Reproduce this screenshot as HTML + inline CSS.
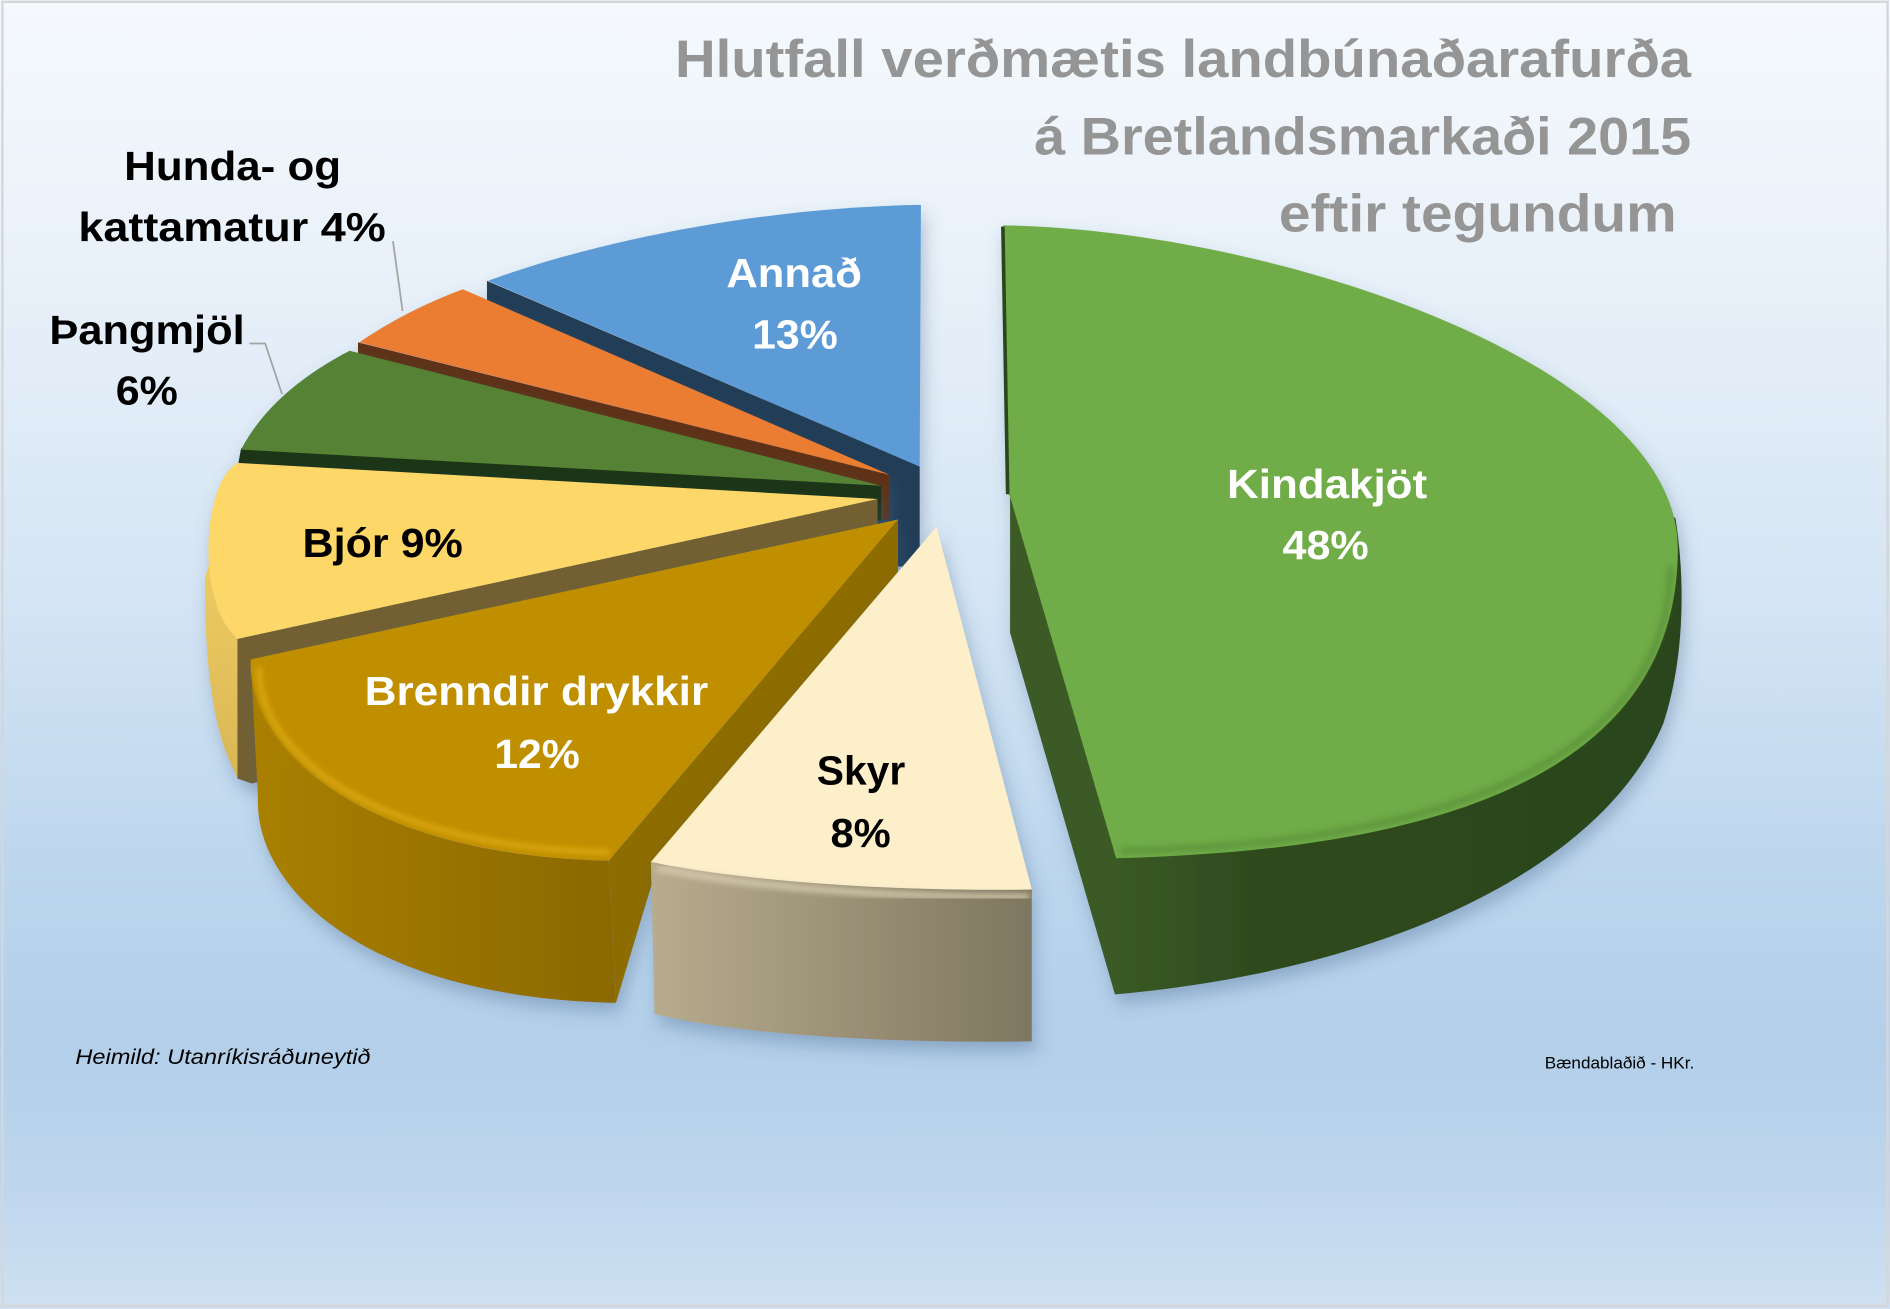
<!DOCTYPE html>
<html>
<head>
<meta charset="utf-8">
<style>
html,body{margin:0;padding:0;background:#fff;overflow:hidden;}
svg{display:block;}
text{font-family:"Liberation Sans",Arial,sans-serif;}
</style>
</head>
<body>
<svg xmlns="http://www.w3.org/2000/svg" width="1890" height="1309" viewBox="0 0 1568 1086" preserveAspectRatio="none">
<defs>
  <linearGradient id="bg" x1="0" y1="0" x2="0" y2="1">
    <stop offset="0" stop-color="#f5f9fd"/>
    <stop offset="0.2" stop-color="#e9f1f9"/>
    <stop offset="0.45" stop-color="#d5e5f4"/>
    <stop offset="0.68" stop-color="#bbd5ed"/>
    <stop offset="0.8" stop-color="#b3cfe9"/>
    <stop offset="0.92" stop-color="#c0d7ee"/>
    <stop offset="1" stop-color="#cfe1f2"/>
  </linearGradient>
  <linearGradient id="brw" gradientUnits="userSpaceOnUse" x1="205" y1="0" x2="512" y2="0">
    <stop offset="0" stop-color="#a98000"/>
    <stop offset="0.5" stop-color="#9a7400"/>
    <stop offset="1" stop-color="#8a6900"/>
  </linearGradient>
  <linearGradient id="skw" gradientUnits="userSpaceOnUse" x1="540" y1="0" x2="858" y2="0">
    <stop offset="0" stop-color="#b8ac8e"/>
    <stop offset="1" stop-color="#7e765f"/>
  </linearGradient>
  <linearGradient id="grw" gradientUnits="userSpaceOnUse" x1="925" y1="0" x2="1395" y2="0">
    <stop offset="0" stop-color="#3a5a25"/>
    <stop offset="0.25" stop-color="#2e4a1e"/>
    <stop offset="1" stop-color="#2b451b"/>
  </linearGradient>
  <linearGradient id="yw" gradientUnits="userSpaceOnUse" x1="0" y1="450" x2="0" y2="650">
    <stop offset="0" stop-color="#f0cd62"/>
    <stop offset="1" stop-color="#d8b656"/>
  </linearGradient>
  <filter id="sh" x="-10%" y="-10%" width="130%" height="130%">
    <feGaussianBlur in="SourceAlpha" stdDeviation="7"/>
    <feOffset dx="3" dy="8" result="b"/>
    <feFlood flood-color="#3d5f85" flood-opacity="0.35"/>
    <feComposite in2="b" operator="in"/>
    <feMerge><feMergeNode/><feMergeNode in="SourceGraphic"/></feMerge>
  </filter>
  <filter id="bl" x="-5%" y="-5%" width="110%" height="110%">
    <feGaussianBlur stdDeviation="2.5"/>
  </filter>
</defs>

<!-- background -->
<rect x="0" y="0" width="1568" height="1086" fill="url(#bg)"/>
<rect x="2" y="1.5" width="1564" height="1082" fill="none" stroke="#d6d6d6" stroke-width="2"/>

<!-- Annað (blue) -->
<g filter="url(#sh)">
  <path d="M404,233 L763,387 L763,470 L740,470 L404,262 Z" fill="#223c56"/>
  <path d="M405,233 C480,205 620,172 764,170 L763,387 Z" fill="#5b9bd5"/>
</g>

<!-- Hunda- og kattamatur (orange) -->
<g filter="url(#sh)">
  <path d="M297,284 L738,394 L738,431 L727,431 L727,406 L297,296 Z" fill="#5f3313"/>
  <path d="M298,284 Q338,257 384,240 L738,394 Z" fill="#ea7d31"/>
</g>

<!-- Þangmjöl (dark green) -->
<g filter="url(#sh)">
  <path d="M200,372 L731,403 L731,432 L196,394 Z" fill="#1f3413"/>
  <path d="M200,373 Q225,325 290,291 L731,403 Z" fill="#548235"/>
</g>

<!-- Bjór (yellow) -->
<g filter="url(#sh)">
  <path d="M197,384 C168,400 162,500 197,530 L197,645 C178,610 170,560 170,480 Z" fill="url(#yw)"/>
  <path d="M197,530 L728,414 L728,531 L209,650 L197,646 Z" fill="#736130"/>
  <path d="M197,384 C168,400 162,500 197,530 L728,414 Z" fill="#fdd867"/>
</g>

<!-- Brenndir drykkir -->
<g filter="url(#sh)">
  <path d="M208,547 C205,620 300,710 505,714 L511,832 C306,828 211,738 214,662 Z" fill="url(#brw)"/>
  <path d="M745,431 L505,714 L511,832 L546,716 L745,482 Z" fill="#8d6c00"/>
  <path d="M208,547 C205,620 300,710 505,714 L745,431 Z" fill="#bf8f00"/>
  <path d="M215,553 C213,622 305,703 506,707" fill="none" stroke="#e2ae0a" stroke-width="5" opacity="0.75" filter="url(#bl)"/>
</g>

<!-- Skyr -->
<g filter="url(#sh)">
  <path d="M540,715 C600,728 720,740 856,738 L856,864 C720,866 600,856 543,841 Z" fill="url(#skw)"/>
  <path d="M777,437 L540,715 C600,728 720,740 856,738 Z" fill="#fcefca"/>
  <path d="M545,720 C605,733 720,745 854,744" fill="none" stroke="#d8cdb0" stroke-width="6" opacity="0.8" filter="url(#bl)"/>
</g>

<!-- Kindakjöt (green) -->
<g filter="url(#sh)">
  <path d="M838,412 L838,525 L925,825 C1150,805 1330,720 1380,600 C1398,545 1398,480 1390,430 L1200,300 Z" fill="url(#grw)"/>
  <path d="M832,187 C1050,190 1392,300 1392,455 C1392,640 1200,705 926,712 L838,412 L835,408 Z" fill="#6fac47"/>
  <path d="M1386,470 C1384,630 1200,700 930,706" fill="none" stroke="#4f7f33" stroke-width="5" opacity="0.5" filter="url(#bl)"/>
  <path d="M832,188 L836,410" fill="none" stroke="#2c461c" stroke-width="3"/>
</g>

<!-- leader lines -->
<path d="M326,200 L334,258" fill="none" stroke="#a5a5a5" stroke-width="1.5"/>
<path d="M207,285 L220,285 L234,327" fill="none" stroke="#a5a5a5" stroke-width="1.5"/>

<!-- title -->
<g fill="#959595" font-weight="bold" font-size="44">
  <text x="560" y="64" textLength="843" lengthAdjust="spacingAndGlyphs">Hlutfall verðmætis landbúnaðarafurða</text>
  <text x="858" y="128" textLength="545" lengthAdjust="spacingAndGlyphs">á Bretlandsmarkaði 2015</text>
  <text x="1061" y="192" textLength="330" lengthAdjust="spacingAndGlyphs">eftir tegundum</text>
</g>

<!-- labels -->
<g font-weight="bold" font-size="34" fill="#000">
  <text x="103" y="149.5" textLength="180" lengthAdjust="spacingAndGlyphs">Hunda- og</text>
  <text x="65" y="200" textLength="255" lengthAdjust="spacingAndGlyphs">kattamatur 4%</text>
  <text x="41" y="285.5" textLength="162" lengthAdjust="spacingAndGlyphs">Þangmjöl</text>
  <text x="96" y="335.6" textLength="51.5" lengthAdjust="spacingAndGlyphs">6%</text>
  <text x="251" y="462" textLength="133" lengthAdjust="spacingAndGlyphs">Bjór 9%</text>
  <text x="677.6" y="650.7" textLength="73.4" lengthAdjust="spacingAndGlyphs">Skyr</text>
  <text x="689" y="702.7" textLength="50" lengthAdjust="spacingAndGlyphs">8%</text>
</g>
<g font-weight="bold" font-size="34" fill="#ffffff">
  <text x="602.6" y="238" textLength="112.5" lengthAdjust="spacingAndGlyphs">Annað</text>
  <text x="624" y="289" textLength="71" lengthAdjust="spacingAndGlyphs">13%</text>
  <text x="302.5" y="585" textLength="285" lengthAdjust="spacingAndGlyphs">Brenndir drykkir</text>
  <text x="410" y="637" textLength="71" lengthAdjust="spacingAndGlyphs">12%</text>
  <text x="1018" y="413" textLength="166" lengthAdjust="spacingAndGlyphs">Kindakjöt</text>
  <text x="1064" y="463.6" textLength="71.5" lengthAdjust="spacingAndGlyphs">48%</text>
</g>

<!-- footnotes -->
<text x="62.5" y="882.7" font-size="18" font-style="italic" fill="#000" textLength="245" lengthAdjust="spacingAndGlyphs">Heimild: Utanríkisráðuneytið</text>
<text x="1281.6" y="886.3" font-size="14" fill="#000" textLength="124" lengthAdjust="spacingAndGlyphs">Bændablaðið - HKr.</text>
</svg>
</body>
</html>
